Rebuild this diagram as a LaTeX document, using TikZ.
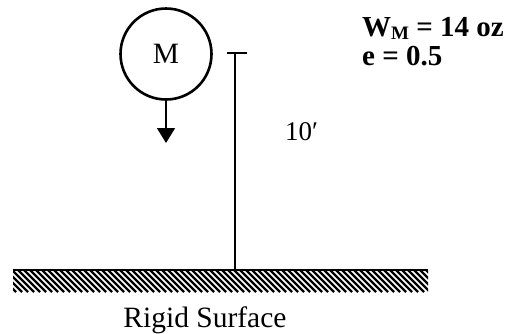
\documentclass[tikz,border=0pt]{standalone}
\usepackage{fontspec}
\setmainfont{Liberation Serif}
\usetikzlibrary{arrows.meta}
\newcommand{\mysub}[1]{\raisebox{-3.5pt}{\fontsize{19}{19}\selectfont #1}}
\begin{document}
\begin{tikzpicture}[x=1pt,y=-1pt,
  lbl/.style={inner sep=0pt,font=\fontsize{29.5}{31}\selectfont},
  bold/.style={inner sep=0pt,font=\fontsize{29}{31}\selectfont\bfseries},
  thickline/.style={line width=2.6pt},
  thinline/.style={line width=1.6pt}]
\useasboundingbox (0,0) rectangle (508,333);
% mass
\node[draw,circle,line width=2.6pt,minimum size=91pt,inner sep=0pt,lbl] (m) at (166,54) {M};
\coordinate (tip) at (166,143);
\draw[thinline,-{Triangle[length=15pt,width=18pt]}] (m.south) -- (tip);
% height dimension
\coordinate (top) at (235,53);
\coordinate (bot) at (235,270);
\coordinate (tl) at (227,53);
\coordinate (tr) at (247,53);
\draw[thinline] (top) -- (bot);
\draw[thinline] (tl) -- (tr);
\node[lbl,font=\fontsize{27}{29}\selectfont,anchor=base west] (h) at (285,140) {10′};
% ground
\coordinate (gl) at (13,270);
\coordinate (gr) at (428,270);
\begin{scope}
  \clip (13,270) rectangle (428,292);
  \foreach \x in {-24,-18,...,430} {
    \draw[line width=2.2pt] (\x,270) -- ++(22,22);
  }
\end{scope}
\draw[thickline] (gl) -- (gr);
\node[lbl,anchor=base] (rs) at (205,327) {Rigid Surface};
% data
\node[bold,anchor=base west] (w) at (362,36) {W\mysub{M} = 14 oz};
\node[bold,anchor=base west] (e) at (362,65) {e = 0.5};
\end{tikzpicture}
\end{document}
